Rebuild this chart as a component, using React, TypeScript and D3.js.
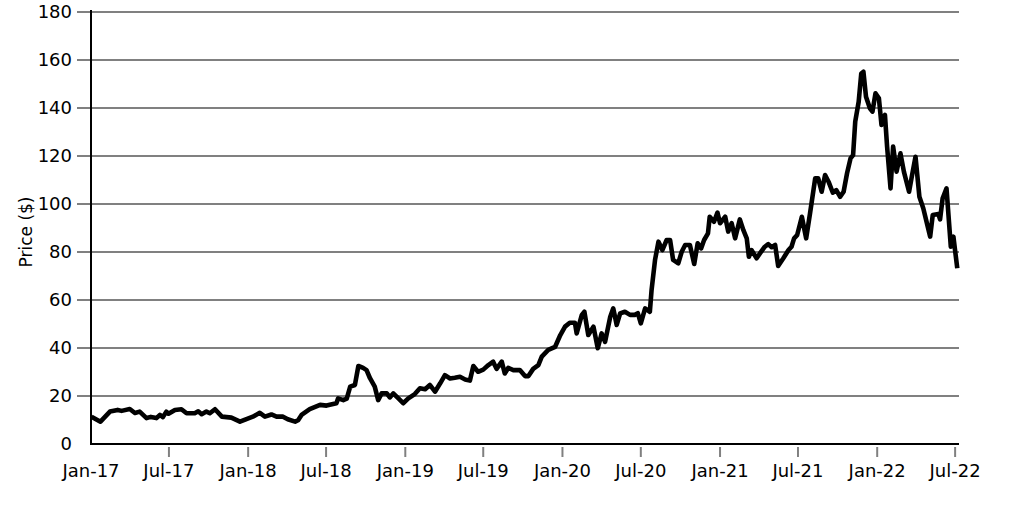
import React from "react";
import * as d3 from "d3";

const dates: string[] = [
  "2017-01-02","2017-01-23","2017-02-14","2017-03-04","2017-03-13","2017-04-01","2017-04-13","2017-04-24","2017-05-10","2017-05-20",
  "2017-06-02","2017-06-10","2017-06-17","2017-06-25","2017-06-30","2017-07-15","2017-07-30","2017-08-11","2017-08-30","2017-09-07",
  "2017-09-15","2017-09-26","2017-10-04","2017-10-16","2017-11-01","2017-11-23","2017-12-13","2017-12-28","2018-01-12","2018-01-28",
  "2018-02-09","2018-02-24","2018-03-08","2018-03-23","2018-04-03","2018-04-20","2018-04-27","2018-05-05","2018-05-24","2018-06-17",
  "2018-07-02","2018-07-25","2018-07-29","2018-08-10","2018-08-18","2018-08-26","2018-09-06","2018-09-14","2018-09-25","2018-10-03",
  "2018-10-11","2018-10-22","2018-10-30","2018-11-07","2018-11-19","2018-11-26","2018-12-04","2018-12-16","2018-12-27","2019-01-08",
  "2019-01-23","2019-02-04","2019-02-16","2019-02-27","2019-03-11","2019-03-23","2019-04-03","2019-04-15","2019-04-26","2019-05-08",
  "2019-05-20","2019-05-31","2019-06-08","2019-06-19","2019-07-01","2019-07-13","2019-07-24","2019-08-01","2019-08-13","2019-08-20",
  "2019-08-28","2019-09-09","2019-09-24","2019-10-06","2019-10-14","2019-10-25","2019-11-06","2019-11-14","2019-11-29","2019-12-15",
  "2019-12-27","2020-01-07","2020-01-18","2020-01-30","2020-02-03","2020-02-15","2020-02-21","2020-03-01","2020-03-13","2020-03-23",
  "2020-04-01","2020-04-09","2020-04-21","2020-04-28","2020-05-06","2020-05-14","2020-05-25","2020-06-06","2020-06-17","2020-06-24",
  "2020-07-01","2020-07-11","2020-07-22","2020-07-26","2020-08-03","2020-08-11","2020-08-20","2020-08-30","2020-09-07","2020-09-14",
  "2020-09-26","2020-10-04","2020-10-12","2020-10-23","2020-11-02","2020-11-10","2020-11-18","2020-11-25","2020-12-04","2020-12-08",
  "2020-12-18","2020-12-26","2021-01-01","2021-01-13","2021-01-20","2021-01-28","2021-02-05","2021-02-16","2021-02-24","2021-03-04",
  "2021-03-09","2021-03-15","2021-03-27","2021-04-04","2021-04-15","2021-04-23","2021-05-01","2021-05-09","2021-05-16","2021-05-28",
  "2021-06-09","2021-06-16","2021-06-22","2021-06-29","2021-07-10","2021-07-20","2021-07-29","2021-08-10","2021-08-17","2021-08-25",
  "2021-09-02","2021-09-10","2021-09-20","2021-09-28","2021-10-07","2021-10-15","2021-10-23","2021-10-31","2021-11-06","2021-11-11",
  "2021-11-19","2021-11-25","2021-11-30","2021-12-06","2021-12-15","2021-12-21","2021-12-28","2022-01-05","2022-01-11","2022-01-19",
  "2022-01-24","2022-02-01","2022-02-07","2022-02-15","2022-02-24","2022-03-04","2022-03-16","2022-03-23","2022-03-31","2022-04-09",
  "2022-04-18","2022-05-04","2022-05-10","2022-05-23","2022-05-27","2022-06-02","2022-06-11","2022-06-21","2022-06-27","2022-07-06"
];

const prices: number[] = [
  11.4,9.3,13.5,14.2,13.8,14.6,12.9,13.5,10.8,11.3,
  10.8,12.1,11.2,13.5,12.6,14.2,14.5,12.8,12.8,13.6,
  12.4,13.5,12.8,14.5,11.4,11.0,9.3,10.4,11.4,13.0,
  11.4,12.3,11.4,11.4,10.3,9.3,9.9,12.1,14.5,16.3,
  16.0,17.0,19.0,18.3,18.9,23.9,24.6,32.5,31.7,30.8,
  27.4,23.9,18.3,21.1,21.1,19.4,21.1,19.0,17.0,19.0,
  20.8,23.2,22.8,24.6,21.8,25.3,28.7,27.3,27.6,28.0,
  26.9,26.4,32.5,30.1,31.0,32.9,34.3,31.3,34.3,29.4,
  31.7,30.8,30.8,28.3,28.3,31.3,32.9,36.4,39.2,40.5,
  45.4,48.9,50.5,50.5,46.1,53.8,55.1,45.4,48.9,39.9,
  46.1,42.6,53.0,56.5,49.6,54.4,55.1,53.8,53.8,54.5,
  50.3,56.5,55.1,64.2,76.7,84.3,80.8,85.0,85.0,76.7,
  75.3,80.1,82.9,82.9,75.0,83.6,81.5,85.0,87.8,94.7,
  92.6,96.4,92.0,94.7,88.5,92.0,85.7,93.6,89.2,85.7,
  78.0,80.8,77.4,79.5,82.2,83.3,82.0,82.9,74.2,77.4,
  80.8,82.2,85.7,87.0,94.7,85.7,96.1,110.7,110.7,105.1,
  112.1,109.3,104.7,105.8,103.0,105.1,112.8,119.0,120.4,134.3,
  142.6,154.4,155.1,144.7,139.9,138.5,146.1,144.0,132.9,137.1,
  123.9,106.5,123.9,113.5,121.1,113.5,105.1,112.0,119.7,103.0,
  98.2,86.4,95.4,95.8,93.6,102.4,106.5,82.2,86.4,73.2
];

const yTicks: number[] = [0, 20, 40, 60, 80, 100, 120, 140, 160, 180];
const xTickDates: string[] = ["2017-01-01","2017-07-01","2018-01-01","2018-07-01","2019-01-01","2019-07-01","2020-01-01","2020-07-01","2021-01-01","2021-07-01","2022-01-01","2022-07-01"];
const xTickLabels: string[] = ["Jan-17","Jul-17","Jan-18","Jul-18","Jan-19","Jul-19","Jan-20","Jul-20","Jan-21","Jul-21","Jan-22","Jul-22"];
const yTitle = "Price ($)";

export default function App() {
  const W = 1031, H = 516;
  const left = 91, right = 959, top = 12, bottom = 444;
  const parse = d3.timeParse("%Y-%m-%d");
  const x = d3.scaleTime()
    .domain([parse("2017-01-01")!, parse("2022-07-10")!])
    .range([left, right]);
  const y = d3.scaleLinear().domain([0, 180]).range([bottom, top]);
  const data = dates.map((d, i) => ({ date: parse(d)!, value: prices[i] }));
  const line = d3.line<{ date: Date; value: number }>()
    .x(d => x(d.date))
    .y(d => y(d.value));
  const font = "'DejaVu Sans', sans-serif";
  return (
    <svg width={W} height={H} style={{ position: "absolute", left: 0, top: 0, background: "#fff" }}>
      <rect x={0} y={0} width={W} height={H} fill="#fff" />
      {yTicks.filter(t => t > 0).map(t => (
        <line key={"g" + t} x1={77} x2={right} y1={y(t)} y2={y(t)} stroke="#808080" strokeWidth={2} />
      ))}
      {yTicks.map(t => (
        <text key={"yl" + t} x={72} y={y(t)} dy="0.36em" textAnchor="end" fontFamily={font} fontSize={18} fill="#000">{t}</text>
      ))}
      {xTickDates.map((d, i) => (
        <g key={"xt" + d}>
          {i > 0 && <line x1={x(parse(d)!)} x2={x(parse(d)!)} y1={447} y2={457} stroke="#808080" strokeWidth={2} />}
          <text x={x(parse(d)!)} y={477} textAnchor="middle" fontFamily={font} fontSize={18} fill="#000">{xTickLabels[i]}</text>
        </g>
      ))}
      <line x1={left} x2={left} y1={top - 2} y2={bottom + 1} stroke="#000" strokeWidth={2} />
      <line x1={left - 1} x2={right} y1={bottom} y2={bottom} stroke="#000" strokeWidth={2} />
      <text transform={`translate(32,${(top + bottom) / 2 + 4}) rotate(-90)`} textAnchor="middle" fontFamily={font} fontSize={17} fill="#000">{yTitle}</text>
      <path d={line(data) || ""} fill="none" stroke="#000" strokeWidth={4.6} strokeLinejoin="round" strokeLinecap="butt" />
    </svg>
  );
}
